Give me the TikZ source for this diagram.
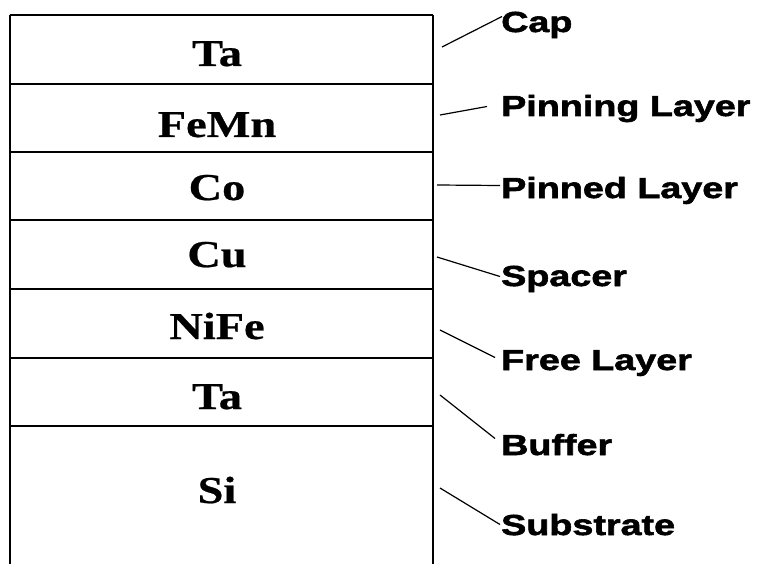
\documentclass[tikz,border=0pt]{standalone}
\usepackage{fontspec}
\usetikzlibrary{calc}
\newfontfamily\labfont[FakeStretch=1.3,FakeBold=2]{Liberation Sans}
\newfontfamily\layfont[FakeStretch=1.22,FakeBold=0.6]{Liberation Serif}
\tikzset{
  layer/.style={anchor=base,inner sep=0pt,font=\layfont\bfseries\fontsize{38}{41}\selectfont},
  lab/.style={anchor=base west,inner sep=0pt,text height=21pt,text depth=0pt,font=\labfont\bfseries\fontsize{29}{32}\selectfont},
  boxline/.style={line width=1.8pt,black},
  sideline/.style={line width=1.4pt,black},
  leader/.style={line width=1.2pt,black}
}
\begin{document}
\begin{tikzpicture}[x=1pt,y=-1pt]
\useasboundingbox (0,0) rectangle (765,564);
% box
\draw[sideline] (10,564) -- (10,15);
\draw[sideline] (433,564) -- (433,15);
\foreach \yy in {15,84,152,220,289,358,426}
  \draw[boxline] (10,\yy) -- (433,\yy);
% layer names
\node[layer] (ta1) at (217,66) {Ta};
\node[layer] (femn) at (217,137) {FeMn};
\node[layer] (co) at (217,200) {Co};
\node[layer] (cu) at (217,267) {Cu};
\node[layer] (nife) at (217,339) {NiFe};
\node[layer] (ta2) at (217,409) {Ta};
\node[layer] (si) at (217,503) {Si};
% labels
\node[lab] (cap) at (501,32) {Cap};
\node[lab] (pinning) at (501,116) {Pinning Layer};
\node[lab] (pinned) at (501,198) {Pinned Layer};
\node[lab] (spacer) at (501,286) {Spacer};
\node[lab] (free) at (501,370) {Free Layer};
\node[lab] (buffer) at (501,455) {Buffer};
\node[lab] (sub) at (501,535) {Substrate};
% leader start points
\coordinate (c1) at (442,47);
\coordinate (c2) at (440,115);
\coordinate (c3) at (437,185);
\coordinate (c4) at (437,257);
\coordinate (c5) at (440,330);
\coordinate (c6) at (440,395);
\coordinate (c7) at (440,488);
\draw[leader] (c1) -- ($(cap.west)+(1,-5)$);
\draw[leader] (c2) -- ($(pinning.west)+(-14,1)$);
\draw[leader] (c3) -- ($(pinned.west)+(-1,-2)$);
\draw[leader] (c4) -- ($(spacer.west)+(-1,1)$);
\draw[leader] (c5) -- ($(free.west)+(-6,-2)$);
\draw[leader] (c6) -- ($(buffer.west)+(-6,-6)$);
\draw[leader] (c7) -- ($(sub.west)+(-1,0)$);
\end{tikzpicture}
\end{document}
